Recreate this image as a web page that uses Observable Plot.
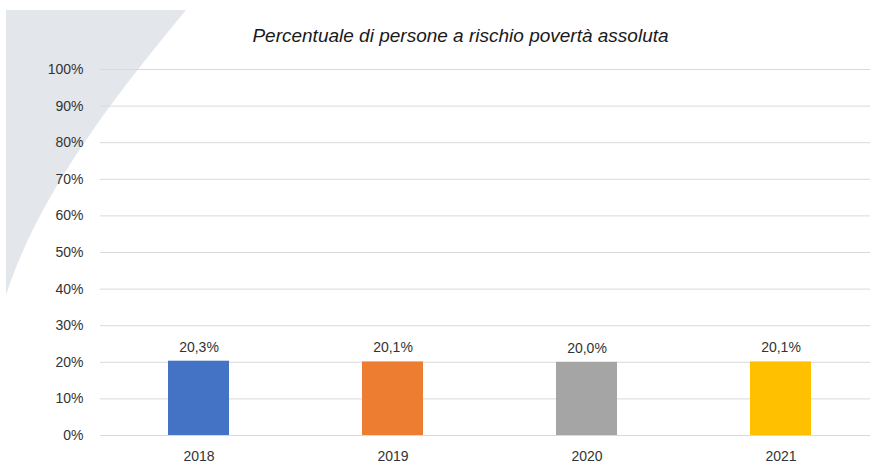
<!DOCTYPE html>
<html>
<head>
<meta charset="utf-8">
<script src="https://cdn.jsdelivr.net/npm/d3@7"></script>
<script src="https://cdn.jsdelivr.net/npm/@observablehq/plot@0.6"></script>
<style>
  body { margin: 0; background: #fff; }
  #wrap { position: relative; width: 872px; height: 465px; overflow: hidden; font-family: "Liberation Sans", Arial, sans-serif; }
  #deco { position: absolute; left: 0; top: 0; }
  #title { position: absolute; left: 0; width: 921px; top: 25px; text-align: center; font-style: italic; font-size: 19px; color: #1a1a1a; }
  #chart { position: absolute; left: 0; top: 0; }
</style>
</head>
<body>
<div id="wrap">
  <svg id="deco" width="872" height="465"><path d="M6,10 L186,10 C120,90 40,190 6,295 Z" fill="#e3e6eb"/></svg>
  <div id="title">Percentuale di persone a rischio povertà assoluta</div>
  <div id="chart"></div>
</div>
<script>
const years = ["2018", "2019", "2020", "2021"];
const values = [0.203, 0.201, 0.200, 0.201];
const labels = ["20,3%", "20,1%", "20,0%", "20,1%"];
const colors = ["#4472C4", "#ED7D31", "#A5A5A5", "#FFC000"];
const yTicks = [0, 0.1, 0.2, 0.3, 0.4, 0.5, 0.6, 0.7, 0.8, 0.9, 1.0];

const data = years.map((y, i) => ({year: y, value: values[i], label: labels[i], color: colors[i]}));

const chart = Plot.plot({
  width: 872,
  height: 465,
  marginTop: 69,
  marginBottom: 30,
  marginLeft: 100,
  marginRight: 2,
  style: {background: "transparent", fontFamily: "Liberation Sans, Arial, sans-serif", fontSize: "14px", color: "#404040"},
  x: {domain: years, range: [100, 878], paddingInner: 0.686, paddingOuter: 0.343, label: null},
  y: {domain: [0, 1], label: null},
  marks: [
    Plot.ruleY(yTicks, {stroke: "#d9d9d9", strokeWidth: 1}),
    Plot.barY(data, {x: "year", y: "value", fill: "color"}),
    Plot.text(data, {x: "year", y: "value", text: "label", dy: -14, fill: "#333", fontSize: 14}),
    Plot.axisY(yTicks, {tickSize: 0, tickPadding: 17, tickFormat: d => Math.round(d * 100) + "%", fill: "#333", fontSize: 14}),
    Plot.axisX({tickSize: 0, tickPadding: 16, fill: "#333", fontSize: 14})
  ]
});
document.getElementById("chart").appendChild(chart);
</script>
</body>
</html>
